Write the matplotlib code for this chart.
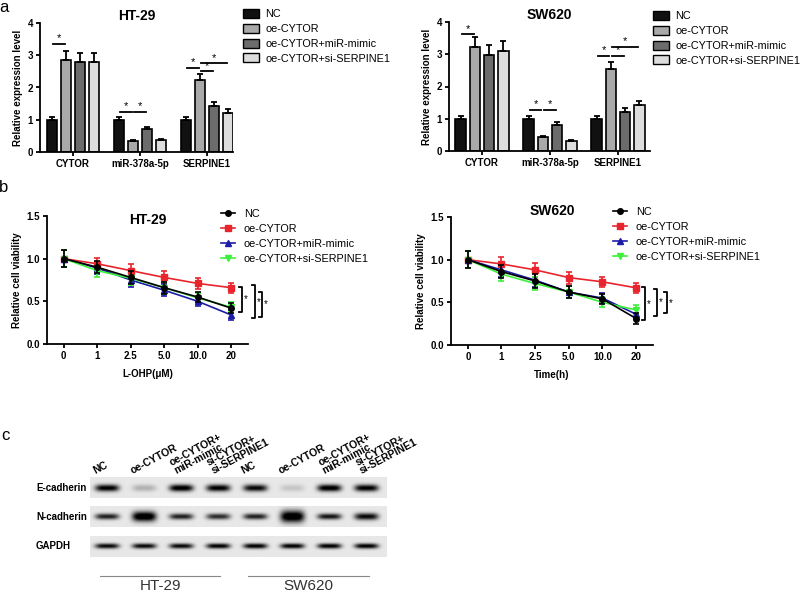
import numpy as np
import matplotlib
matplotlib.use("Agg")
import matplotlib.pyplot as plt
from matplotlib.patches import Patch
from matplotlib.lines import Line2D

plt.rcParams['font.family'] = ['Liberation Sans', 'DejaVu Sans']

W, H = 800, 593

def px(l, t, r, b):
    # pixel box -> figure fraction
    return [l / W, 1 - b / H, (r - l) / W, (b - t) / H]

##----- data : panel a -----##
genes = ["CYTOR", "miR-378a-5p", "SERPINE1"]
groups = ["NC", "oe-CYTOR", "oe-CYTOR+miR-mimic", "oe-CYTOR+si-SERPINE1"]
bar_colors = ["#111111", "#a9a9a9", "#6c6c6c", "#dddddd"]

ht29_expr = [[1.00, 2.85, 2.78, 2.80], [1.00, 0.33, 0.70, 0.37], [1.00, 2.22, 1.42, 1.20]]
ht29_err = [[0.10, 0.28, 0.28, 0.28], [0.10, 0.03, 0.06, 0.03], [0.08, 0.20, 0.13, 0.12]]
sw620_expr = [[1.00, 3.22, 2.98, 3.10], [1.00, 0.43, 0.82, 0.32], [1.00, 2.55, 1.22, 1.42]]
sw620_err = [[0.10, 0.30, 0.30, 0.30], [0.10, 0.03, 0.08, 0.03], [0.08, 0.22, 0.10, 0.12]]

# (gene, bar from, bar to, height)
ht29_sig = [(0, 0, 1, 3.35), (1, 0, 1, 1.25), (1, 1, 2, 1.25),
            (2, 0, 1, 2.60), (2, 1, 2, 2.50), (2, 1, 3, 2.75)]
sw620_sig = [(0, 0, 1, 3.62), (1, 0, 1, 1.28), (1, 1, 2, 1.28),
             (2, 0, 1, 2.95), (2, 1, 2, 2.95), (2, 1, 3, 3.22)]

##----- data : panel b -----##
doses = ["0", "1", "2.5", "5.0", "10.0", "20"]
line_colors = ["#000000", "#e8242c", "#1c1ca8", "#3cf03c"]
line_markers = ["o", "s", "^", "v"]

ht29_nc = [1.00, 0.90, 0.78, 0.66, 0.55, 0.42]
ht29_oe = [1.00, 0.94, 0.86, 0.78, 0.71, 0.66]
ht29_mimic = [1.00, 0.89, 0.75, 0.63, 0.50, 0.34]
ht29_si = [1.00, 0.86, 0.77, 0.66, 0.54, 0.43]
ht29_via_err = [0.10, 0.07, 0.08, 0.07, 0.06, 0.06]

sw620_nc = [1.00, 0.86, 0.75, 0.62, 0.54, 0.31]
sw620_oe = [1.00, 0.95, 0.88, 0.79, 0.74, 0.67]
sw620_mimic = [1.00, 0.88, 0.76, 0.62, 0.55, 0.36]
sw620_si = [1.00, 0.83, 0.72, 0.62, 0.50, 0.41]
sw620_via_err = [0.10, 0.08, 0.08, 0.07, 0.06, 0.06]

# brackets (x, top, bottom)
ht29_brackets = [(5.33, 0.67, 0.375), (5.72, 0.69, 0.30), (5.93, 0.61, 0.32)]
sw620_brackets = [(5.27, 0.68, 0.29), (5.63, 0.66, 0.34), (5.92, 0.62, 0.37)]

##----- data : panel c (blot) -----##
lane_labels = ["NC", "oe-CYTOR", "oe-CYTOR+\nmiR-mimic", "si-CYTOR+\nsi-SERPINE1",
               "NC", "oe-CYTOR", "oe-CYTOR+\nmiR-mimic", "si-CYTOR+\nsi-SERPINE1"]
proteins = ["E-cadherin", "N-cadherin", "GAPDH"]
e_cad = [0.95, 0.22, 1.00, 0.95, 0.90, 0.14, 1.00, 0.95]
n_cad = [0.80, 1.10, 0.80, 0.75, 0.80, 1.10, 0.85, 0.90]
gapdh = [0.90, 0.90, 0.90, 0.95, 0.95, 0.95, 0.95, 0.95]
band_thick = [[3.5] * 8, [3, 5, 3, 3, 3, 6, 3, 3.5], [2.6] * 8]
cell_lines = ["HT-29", "SW620"]

fig = plt.figure(figsize=(8, 5.93), dpi=100)

def style_axes(ax):
    for s in ["top", "right"]:
        ax.spines[s].set_visible(False)
    for s in ["left", "bottom"]:
        ax.spines[s].set_linewidth(1.3)
    ax.tick_params(width=1.3, length=3, labelsize=7, pad=2)
    for lab in ax.get_xticklabels() + ax.get_yticklabels():
        lab.set_fontweight("bold")

def bar_panel(box, title, expr, err, sig, xlim, leg_xy):
    ax = fig.add_axes(px(*box))
    gstep = 4.8
    for i in range(4):
        xs = [g * gstep + i - 1.5 for g in range(3)]
        ys = [expr[g][i] for g in range(3)]
        es = [err[g][i] for g in range(3)]
        ax.bar(xs, ys, width=0.75, color=bar_colors[i], edgecolor="black", linewidth=1.2, zorder=2)
        ax.errorbar(xs, ys, yerr=[np.zeros(3), es], fmt="none", ecolor="black",
                    elinewidth=1.3, capsize=2.5, capthick=1.3, zorder=3)
    for g, a, b, h in sig:
        x1 = g * gstep + a - 1.5 + 0.1
        x2 = g * gstep + b - 1.5 - 0.1
        ax.plot([x1, x2], [h, h], color="black", lw=1.3)
        ax.text((x1 + x2) / 2, h + 0.02, "*", ha="center", va="bottom", fontsize=8)
    ax.set_ylim(0, 4)
    ax.set_xlim(*xlim)
    ax.set_yticks([0, 1, 2, 3, 4])
    ax.set_xticks([g * gstep for g in range(3)])
    ax.set_xticklabels(genes)
    ax.tick_params(axis="x", length=0)
    ax.set_ylabel("Relative expression level", fontsize=7, fontweight="bold", labelpad=3)
    ax.set_title(title, fontsize=10, fontweight="bold", pad=2)
    style_axes(ax)
    handles = [Patch(facecolor=c, edgecolor="black", linewidth=1.0) for c in bar_colors]
    fig.legend(handles, groups, loc="upper left", bbox_to_anchor=(leg_xy[0] / W, 1 - leg_xy[1] / H),
               frameon=False, fontsize=7.8, handlelength=1.45, handleheight=0.9,
               handletextpad=0.6, labelspacing=0.42, borderpad=0, borderaxespad=0)
    return ax

bar_panel((40, 23, 233, 152), "HT-29", ht29_expr, ht29_err, ht29_sig, (-2.36, 11.46), (243, 9))
bar_panel((449, 22, 650, 151), "SW620", sw620_expr, sw620_err, sw620_sig, (-2.33, 11.86), (653, 11))

def line_panel(box, title, title_y, series, err, brackets, xlabel, leg_xy):
    ax = fig.add_axes(px(*box))
    x = np.arange(len(doses))
    for n, (ys, c, m, lab) in enumerate(zip(series, line_colors, line_markers, groups)):
        ax.errorbar(x, ys, yerr=err, color=c, marker=m, markersize=4, lw=1.2,
                    elinewidth=1.2, capsize=2.5, capthick=1.2, label=lab,
                    zorder=4 if n == 0 else 2)
    for bx, top, bot in brackets:
        ax.plot([bx - 0.1, bx, bx, bx - 0.1], [top, top, bot, bot], color="black",
                lw=1.3, clip_on=False)
        ax.text(bx + 0.04, (top + bot) / 2, "*", ha="left", va="center", fontsize=7, clip_on=False)
    ax.set_xlim(-0.5, 5.5)
    ax.set_ylim(0, 1.5)
    ax.set_yticks([0, 0.5, 1.0, 1.5])
    ax.set_yticklabels(["0.0", "0.5", "1.0", "1.5"])
    ax.set_xticks(x)
    ax.set_xticklabels(doses)
    ax.set_xlabel(xlabel, fontsize=7, fontweight="bold", labelpad=6)
    ax.set_ylabel("Relative cell viability", fontsize=7, fontweight="bold", labelpad=3)
    ax.set_title(title, fontsize=10, fontweight="bold", y=title_y, pad=0)
    style_axes(ax)
    handles = [Line2D([], [], color=c, marker=m, markersize=4, lw=1.2)
               for c, m in zip(line_colors, line_markers)]
    fig.legend(handles, groups, loc="upper left", bbox_to_anchor=(leg_xy[0] / W, 1 - leg_xy[1] / H),
               frameon=False, fontsize=7.8, handlelength=1.3, handletextpad=0.8,
               labelspacing=0.45, borderpad=0, borderaxespad=0)
    return ax

line_panel((47, 216, 248, 344), "HT-29", 0.935, [ht29_nc, ht29_oe, ht29_mimic, ht29_si],
           ht29_via_err, ht29_brackets, "L-OHP(μM)", (221, 209))
line_panel((451, 217, 653, 345), "SW620", 1.015, [sw620_nc, sw620_oe, sw620_mimic, sw620_si],
           sw620_via_err, sw620_brackets, "Time(h)", (613, 207))

##----- panel c : western blot -----##
axc = fig.add_axes([0, 0, 1, 1], zorder=-1)
axc.set_xlim(0, W)
axc.set_ylim(H, 0)
axc.axis("off")

lane_x0, lane_step = 107, 37.1
lane_x = lane_x0 + lane_step * np.arange(8)
strip_l, strip_r = 90, 387
strip_tops = [477, 506, 536]
strip_h = 21
band_dy = [11, 10.5, 10]

xx = np.linspace(strip_l, strip_r, 600)
yy = np.linspace(0, strip_h, 60)
X, Y = np.meshgrid(xx, yy)
for r, inten in enumerate([e_cad, n_cad, gapdh]):
    img = np.full(X.shape, 0.91)
    for k in range(8):
        wy = band_thick[r][k]
        img -= inten[k] * np.exp(-((X - lane_x[k]) / 12) ** 4) * np.exp(-((Y - band_dy[r]) / wy) ** 2)
    img = np.clip(img, 0, 1)
    t = strip_tops[r]
    axc.imshow(img, cmap="gray", vmin=0, vmax=1, extent=[strip_l, strip_r, t + strip_h, t],
               aspect="auto", interpolation="bilinear")
    axc.text(36, t + band_dy[r], proteins[r], ha="left", va="center", fontsize=7, fontweight="bold")

for k, lab in enumerate(lane_labels):
    dx = -4 if "\n" in lab else -11
    axc.text(lane_x[k] + dx, 476, lab, rotation=28, rotation_mode="anchor", ha="left", va="bottom",
             fontsize=7.5, fontweight="bold", linespacing=0.95)

for j, name in enumerate(cell_lines):
    x1 = lane_x[4 * j] - 7
    x2 = lane_x[4 * j + 3] + 2
    axc.plot([x1, x2], [576, 576], color="#888888", lw=0.8)
    axc.text((x1 + x2) / 2, 586, name, ha="center", va="center", fontsize=11, color="#333333")

fig.text(4 / W, 1 - 8 / H, "a", fontsize=12, ha="center", va="center")
fig.text(4 / W, 1 - 187 / H, "b", fontsize=12, ha="center", va="center")
fig.text(5 / W, 1 - 435 / H, "c", fontsize=12, ha="center", va="center")

fig.savefig("out.png", dpi=100)
